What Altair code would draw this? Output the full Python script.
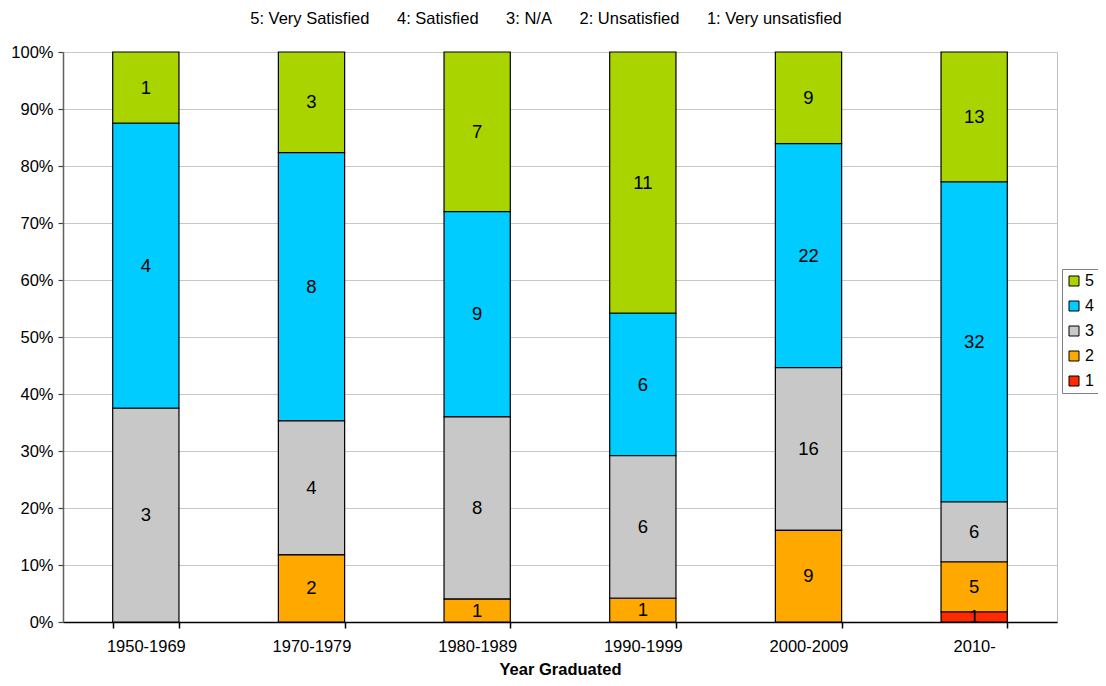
import altair as alt
import pandas as pd

years = ["1950-1969", "1970-1979", "1980-1989", "1990-1999", "2000-2009", "2010-"]
level5 = [1, 3, 7, 11, 9, 13]
level4 = [4, 8, 9, 6, 22, 32]
level3 = [3, 4, 8, 6, 16, 6]
level2 = [0, 2, 1, 1, 9, 5]
level1 = [0, 0, 0, 0, 0, 1]
levels = ["5", "4", "3", "2", "1"]
colors = ["#AAD400", "#00CCFF", "#C8C8C8", "#FFA800", "#FF2A00"]

rows = []
for i, yr in enumerate(years):
    for lv, series in zip(levels, [level5, level4, level3, level2, level1]):
        if series[i] > 0:
            rows.append({"year": yr, "level": lv, "count": series[i], "rank": int(lv)})
df = pd.DataFrame(rows)

FONT = "Liberation Sans"
NB = "\u00a0" * 6
title_text = NB.join(["5: Very Satisfied", "4: Satisfied", "3: N/A", "2: Unsatisfied", "1: Very unsatisfied"])

base = alt.Chart(df).transform_stack(
    stack="count", groupby=["year"], as_=["y0", "y1"], offset="normalize",
    sort=[alt.SortField("rank", order="ascending")]
).transform_calculate(ymid="(datum.y0 + datum.y1) / 2")

xenc = alt.X("year:N", sort=years,
             scale=alt.Scale(paddingInner=0.6, paddingOuter=0.3),
             axis=alt.Axis(title="Year Graduated", labelAngle=0, labelFontSize=16.5, labelFont=FONT,
                           labelColor="black", titleFont=FONT, titleFontSize=16.5, titleFontWeight="bold",
                           titleColor="black", domainColor="black", domainWidth=1.5,
                           tickColor="black", tickWidth=1.5, tickSize=6,
                           tickBand="extent", labelPadding=10, titlePadding=7, grid=False))

bars = base.mark_bar(stroke="black", strokeWidth=1.2).encode(
    x=xenc,
    y=alt.Y("y0:Q", scale=alt.Scale(domain=[0, 1], nice=False),
            axis=alt.Axis(title=None, format=".0%", values=[i / 10 for i in range(11)],
                          labelFontSize=16.5, labelFont=FONT, labelColor="black",
                          gridColor="#c8c8c8", grid=True, domainColor="#606060", domainWidth=1.5,
                          tickColor="#404040", tickWidth=1.2, tickSize=5, labelPadding=5)),
    y2="y1:Q",
    color=alt.Color("level:N", scale=alt.Scale(domain=levels, range=colors),
                    legend=alt.Legend(title=None, orient="none", legendX=999, legendY=217,
                                      symbolType="square", symbolSize=100, symbolStrokeColor="black",
                                      symbolStrokeWidth=1, labelFontSize=16, labelFont=FONT,
                                      labelColor="black", strokeColor="#808080", fillColor="white",
                                      padding=4, rowPadding=9, labelOffset=3)),
)

labels = base.mark_text(fontSize=18.5, font=FONT, color="black").encode(
    x=alt.X("year:N", sort=years),
    y=alt.Y("ymid:Q"),
    text="count:Q",
)

chart = alt.layer(bars, labels).properties(
    width=994, height=570,
    title=alt.Title(title_text, fontSize=16.5, fontWeight="normal", font=FONT, color="black",
                    anchor="middle", offset=17, dx=-14),
    autosize=alt.AutoSizeParams(type="none"),
    padding={"left": 55, "top": 44, "right": 41, "bottom": 56},
).configure_view(stroke="#c0c0c0")

chart.save("out.html", embed_options={"renderer": "svg", "actions": False})
